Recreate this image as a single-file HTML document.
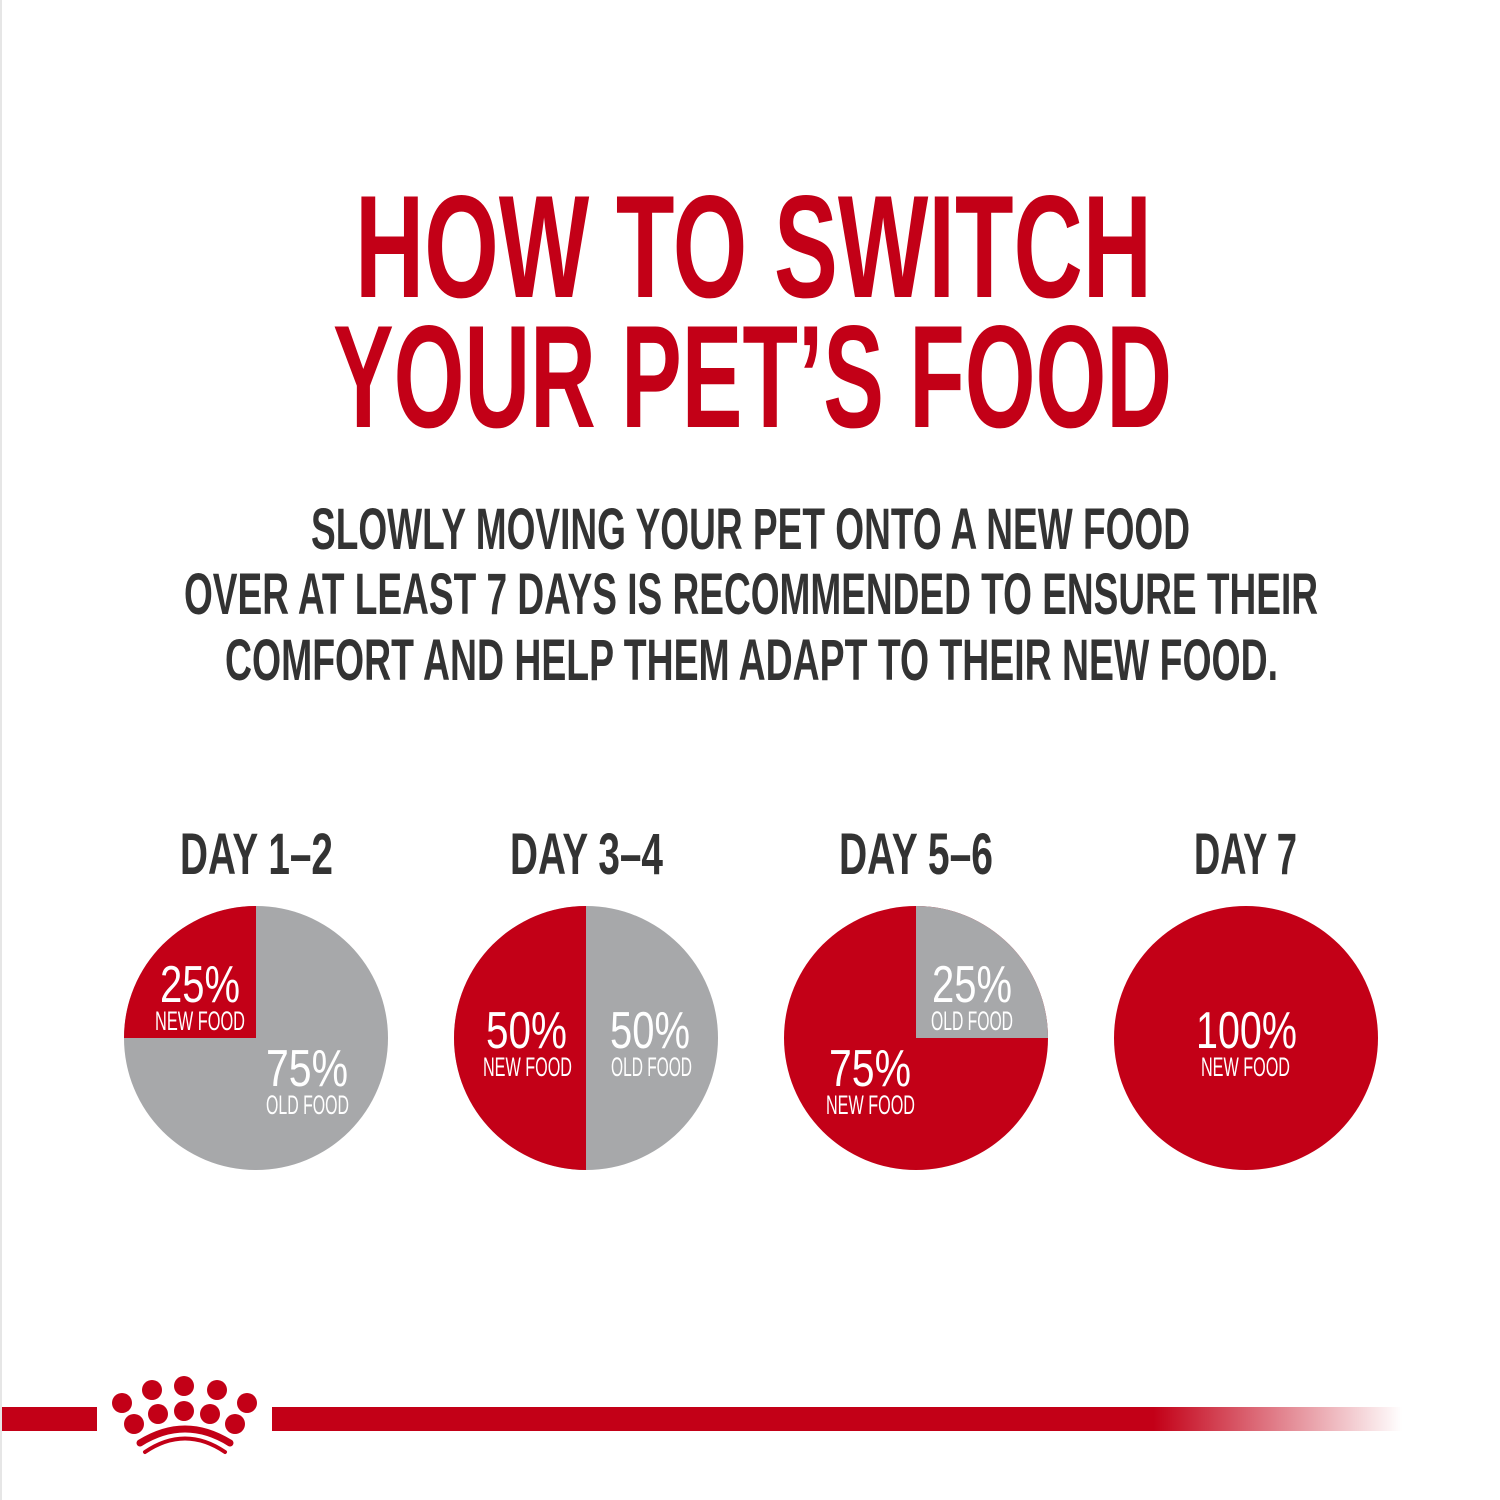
<!DOCTYPE html>
<html><head><meta charset="utf-8"><style>
html,body{margin:0;padding:0;background:#fff;}
svg{display:block}
text{font-family:"Liberation Sans Narrow","Liberation Sans",sans-serif;}
</style></head><body>
<svg width="1500" height="1500" viewBox="0 0 1500 1500" xmlns="http://www.w3.org/2000/svg">
<defs>
<linearGradient id="fade" x1="0" x2="1" y1="0" y2="0">
<stop offset="0" stop-color="#c30017"/>
<stop offset="0.78" stop-color="#c30017"/>
<stop offset="1" stop-color="#c30017" stop-opacity="0"/>
</linearGradient>
<clipPath id="c1"><circle cx="256" cy="1038" r="132"/></clipPath>
<clipPath id="c2"><circle cx="586" cy="1038" r="132"/></clipPath>
<clipPath id="c3"><circle cx="916" cy="1038" r="132"/></clipPath>
</defs>
<rect x="0" y="0" width="1500" height="1500" fill="#fff"/>
<rect x="0" y="0" width="2" height="1500" fill="#e6e6e6"/>
<g fill="#c30017" font-weight="bold" font-size="146">
<text x="355" y="297" textLength="797" lengthAdjust="spacingAndGlyphs">HOW TO SWITCH</text>
<text x="333" y="427" textLength="839" lengthAdjust="spacingAndGlyphs">YOUR PET’S FOOD</text>
</g>
<g fill="#333" font-weight="bold" font-size="58">
<text x="311" y="549" textLength="879" lengthAdjust="spacingAndGlyphs">SLOWLY MOVING YOUR PET ONTO A NEW FOOD</text>
<text x="184" y="614" textLength="1134" lengthAdjust="spacingAndGlyphs">OVER AT LEAST 7 DAYS IS RECOMMENDED TO ENSURE THEIR</text>
<text x="225" y="680" textLength="1053" lengthAdjust="spacingAndGlyphs">COMFORT AND HELP THEM ADAPT TO THEIR NEW FOOD.</text>
<text x="180" y="874" textLength="153" lengthAdjust="spacingAndGlyphs">DAY 1–2</text>
<text x="510" y="874" textLength="153" lengthAdjust="spacingAndGlyphs">DAY 3–4</text>
<text x="839" y="874" textLength="154" lengthAdjust="spacingAndGlyphs">DAY 5–6</text>
<text x="1194" y="874" textLength="103" lengthAdjust="spacingAndGlyphs">DAY 7</text>
</g>
<!-- pies -->
<g clip-path="url(#c1)"><rect x="120" y="900" width="280" height="280" fill="#a7a8aa"/><rect x="120" y="900" width="136" height="138" fill="#c30017"/></g>
<g clip-path="url(#c2)"><rect x="450" y="900" width="280" height="280" fill="#a7a8aa"/><rect x="450" y="900" width="136" height="280" fill="#c30017"/></g>
<g clip-path="url(#c3)"><rect x="780" y="900" width="280" height="280" fill="#c30017"/><rect x="916" y="900" width="140" height="138" fill="#a7a8aa"/></g>
<circle cx="1246" cy="1038" r="132" fill="#c30017"/>
<g fill="#fff">
<g font-size="52">
<text x="160" y="1002" textLength="80" lengthAdjust="spacingAndGlyphs">25%</text>
<text x="266" y="1086" textLength="82" lengthAdjust="spacingAndGlyphs">75%</text>
<text x="486" y="1048" textLength="81" lengthAdjust="spacingAndGlyphs">50%</text>
<text x="610" y="1048" textLength="80" lengthAdjust="spacingAndGlyphs">50%</text>
<text x="932" y="1002" textLength="80" lengthAdjust="spacingAndGlyphs">25%</text>
<text x="829" y="1086" textLength="82" lengthAdjust="spacingAndGlyphs">75%</text>
<text x="1196" y="1048" textLength="101" lengthAdjust="spacingAndGlyphs">100%</text>
</g>
<g font-size="27">
<text x="155" y="1030" textLength="90" lengthAdjust="spacingAndGlyphs">NEW FOOD</text>
<text x="266" y="1114" textLength="83" lengthAdjust="spacingAndGlyphs">OLD FOOD</text>
<text x="483" y="1076" textLength="89" lengthAdjust="spacingAndGlyphs">NEW FOOD</text>
<text x="611" y="1076" textLength="81" lengthAdjust="spacingAndGlyphs">OLD FOOD</text>
<text x="931" y="1030" textLength="82" lengthAdjust="spacingAndGlyphs">OLD FOOD</text>
<text x="826" y="1114" textLength="89" lengthAdjust="spacingAndGlyphs">NEW FOOD</text>
<text x="1201" y="1076" textLength="89" lengthAdjust="spacingAndGlyphs">NEW FOOD</text>
</g>
</g>
<!-- bottom bar and crown -->
<rect x="2" y="1407" width="95" height="24" fill="#c30017"/>
<rect x="272" y="1407" width="1130" height="24" fill="url(#fade)"/>
<g fill="#c30017">
<circle cx="122" cy="1403" r="10"/>
<circle cx="152" cy="1390" r="10"/>
<circle cx="184" cy="1386" r="10"/>
<circle cx="217" cy="1390" r="10"/>
<circle cx="247" cy="1403" r="10"/>
<circle cx="134" cy="1424" r="10"/>
<circle cx="158" cy="1414" r="10"/>
<circle cx="184" cy="1411" r="10"/>
<circle cx="210" cy="1414" r="10"/>
<circle cx="235" cy="1424" r="10"/>
</g>
<path d="M140 1443 Q185 1415 230 1443" stroke="#c30017" stroke-width="7" fill="none" stroke-linecap="round"/>
<path d="M145 1452 Q185 1425 225 1452" stroke="#c30017" stroke-width="4" fill="none" stroke-linecap="round"/>
</svg>
</body></html>
